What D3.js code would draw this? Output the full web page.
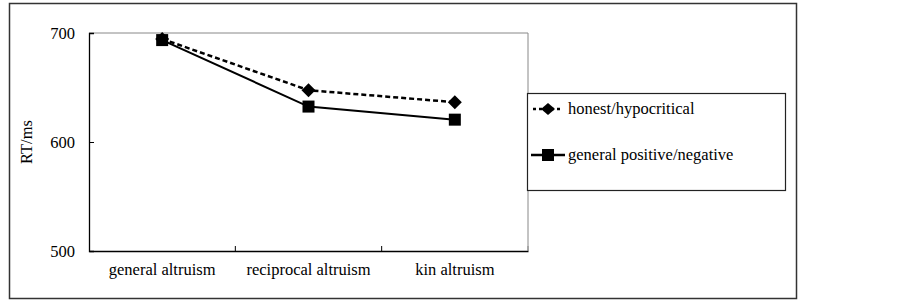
<!DOCTYPE html>
<html><head><meta charset="utf-8">
<script src="https://cdn.jsdelivr.net/npm/d3@7"></script>
<style>body{margin:0;background:#fff}svg{display:block}</style>
</head><body><svg id="c" width="903" height="301"></svg>
<script>
const categories = ["general altruism", "reciprocal altruism", "kin altruism"];
const honest = [694.5, 647.5, 636.5];
const general = [693.5, 632.5, 620.5];
const yTicks = [500, 600, 700];
const seriesNames = ["honest/hypocritical", "general positive/negative"];

const svg = d3.select("#c");
const font = "'Liberation Serif', 'Times New Roman', serif";
const fs = 16.5;
const L = 89, R = 528, T = 33, B = 251;

svg.append("rect").attr("x", 9.5).attr("y", 3.5).attr("width", 787).attr("height", 295)
  .attr("fill", "none").attr("stroke", "#333").attr("stroke-width", 1.5);

const x = d3.scaleBand().domain(categories).range([L, R]);
const y = d3.scaleLinear().domain([500, 700]).range([B, T]);

svg.append("path").attr("d", `M${L},${T}H${R}V${B}`).attr("fill", "none").attr("stroke", "#888").attr("stroke-width", 1);

const xa = svg.append("g").attr("transform", `translate(0,${B})`)
  .call(d3.axisBottom(x).tickSize(0).tickPadding(12));
xa.select(".domain").attr("stroke", "#000").attr("stroke-width", 1.3);
xa.selectAll("text").attr("font-family", font).attr("font-size", fs).attr("fill", "#000");
svg.append("g").selectAll("line").data([1, 2, 3])
  .join("line")
  .attr("x1", i => i < 3 ? x(categories[i]) : R)
  .attr("x2", i => i < 3 ? x(categories[i]) : R)
  .attr("y1", B).attr("y2", B - 5).attr("stroke", i => i < 3 ? "#000" : "#888");

const ya = svg.append("g").attr("transform", `translate(${L},0)`)
  .call(d3.axisLeft(y).tickValues(yTicks).tickSize(-5).tickPadding(14).tickFormat(d3.format("d")));
ya.select(".domain").attr("stroke", "#000").attr("stroke-width", 1.3);
ya.selectAll(".tick line").attr("stroke", "#000");
ya.selectAll("text").attr("font-family", font).attr("font-size", fs).attr("fill", "#000");

svg.append("text").attr("transform", `translate(32,${(T + B) / 2}) rotate(-90)`)
  .attr("text-anchor", "middle").attr("font-family", font).attr("font-size", fs).text("RT/ms");

const cx = d => x(d) + x.bandwidth() / 2;
const line = d3.line().x((v, i) => cx(categories[i])).y(v => y(v));

svg.append("path").datum(general).attr("d", line).attr("fill", "none").attr("stroke", "#000").attr("stroke-width", 2);
svg.append("path").datum(honest).attr("d", line).attr("fill", "none").attr("stroke", "#000").attr("stroke-width", 2.5).attr("stroke-dasharray", "5,3");

const sq = 12, dm = 7;
svg.append("g").selectAll("rect").data(general).join("rect")
  .attr("x", (v, i) => cx(categories[i]) - sq / 2).attr("y", v => y(v) - sq / 2)
  .attr("width", sq).attr("height", sq).attr("fill", "#000");
svg.append("g").selectAll("path").data(honest).join("path")
  .attr("transform", (v, i) => `translate(${cx(categories[i])},${y(v)})`)
  .attr("d", `M0,${-dm}L${dm},0L0,${dm}L${-dm},0Z`).attr("fill", "#000");

const lg = svg.append("g");
lg.append("rect").attr("x", 527.5).attr("y", 93.5).attr("width", 258).attr("height", 97)
  .attr("fill", "#fff").attr("stroke", "#222").attr("stroke-width", 1.2);
const ly = [109, 155];
lg.append("line").attr("x1", 533).attr("x2", 563).attr("y1", ly[0]).attr("y2", ly[0])
  .attr("stroke", "#000").attr("stroke-width", 2.5).attr("stroke-dasharray", "3,3");
lg.append("path").attr("transform", `translate(548,${ly[0]})`)
  .attr("d", `M0,${-dm+1}L${dm},0L0,${dm-1}L${-dm},0Z`).attr("fill", "#000");
lg.append("line").attr("x1", 531).attr("x2", 565).attr("y1", ly[1]).attr("y2", ly[1])
  .attr("stroke", "#000").attr("stroke-width", 2.5);
lg.append("rect").attr("x", 548 - 6).attr("y", ly[1] - 6).attr("width", 12).attr("height", 12).attr("fill", "#000");
lg.selectAll("text.l").data(seriesNames).join("text").attr("class", "l")
  .attr("x", 568).attr("y", (d, i) => ly[i]).attr("dy", "0.32em")
  .attr("font-family", font).attr("font-size", fs).text(d => d);
</script></body></html>
